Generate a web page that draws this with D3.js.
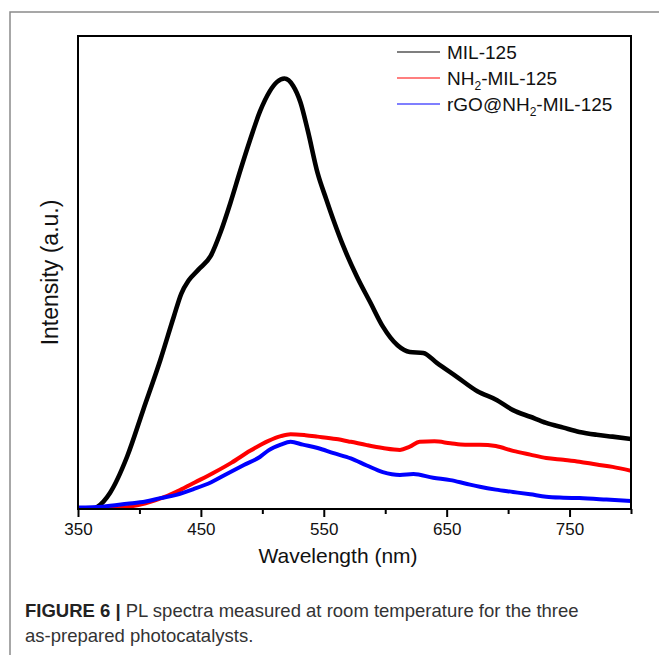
<!DOCTYPE html>
<html>
<head>
<meta charset="utf-8">
<script src="https://cdn.jsdelivr.net/npm/d3@7/dist/d3.min.js"></script>
<style>
  html, body { margin: 0; padding: 0; background: #fff; }
  svg { display: block; }
  text { font-family: "Liberation Sans", Arial, Helvetica, sans-serif; }
</style>
</head>
<body>
<svg id="chart" width="659" height="655"></svg>
<script>
// ---- data ----
const seriesNames = ["MIL-125", "NH2-MIL-125", "rGO@NH2-MIL-125"];
const seriesColors = ["#000000", "#ff0000", "#0000ff"];
const xTicksMajor = [350, 450, 550, 650, 750];
const xTicksMinor = [400, 500, 600, 700, 800];

// wavelength (nm), intensity (a.u., arbitrary scale 0-100)
const mil125 = [
  [350,0],[362,0],[366,0.5],[376,3.4],[390,11.1],[403,20.9],[417,31.5],[428,40.7],
  [434,45.5],[440,48.3],[448,50.6],[458,53.5],[466,58.5],[474,64.7],[482,71.5],
  [490,78.0],[498,84.0],[506,88.3],[512,90.3],[518,91.0],[525,89.5],[531,86.0],
  [537,80.0],[545,71.0],[552,65.5],[558,61.0],[566,55.5],[577,49.1],[588,43.6],
  [598,38.6],[610,34.6],[620,33.2],[631,33.0],[642,30.9],[658,28.0],[675,24.9],
  [691,23.0],[704,20.9],[718,19.5],[731,18.2],[745,17.2],[758,16.3],[772,15.7],
  [785,15.3],[800,14.8]
];
const nh2mil125 = [
  [350,0],[370,0],[390,0.4],[405,1.2],[420,2.5],[433,4.0],[445,5.6],[460,7.6],
  [475,9.8],[490,12.3],[505,14.4],[515,15.4],[523,15.8],[535,15.6],[545,15.3],
  [560,14.8],[572,14.2],[585,13.5],[598,12.9],[612,12.5],[620,13.2],[628,14.2],
  [640,14.3],[653,13.9],[665,13.6],[677,13.6],[690,13.3],[704,12.3],[718,11.5],
  [731,10.8],[745,10.4],[758,10.0],[772,9.4],[785,8.9],[800,8.1]
];
const rgoNh2mil125 = [
  [350,0.3],[370,0.5],[390,1.1],[405,1.6],[417,2.3],[430,3.0],[444,4.2],[458,5.6],
  [471,7.4],[485,9.3],[498,11.0],[505,12.4],[515,13.6],[523,14.2],[533,13.6],
  [545,12.9],[558,11.8],[572,10.7],[585,9.2],[598,7.8],[612,7.2],[623,7.4],
  [639,6.6],[653,6.1],[665,5.4],[677,4.7],[690,4.1],[704,3.6],[718,3.1],
  [731,2.6],[745,2.4],[758,2.3],[780,2.0],[800,1.7]
];
const allSeries = [mil125, nh2mil125, rgoNh2mil125];

// ---- layout ----
const svg = d3.select("#chart");
const W = 659, H = 655;
const plot = { left: 78, right: 631, top: 36, bottom: 509 };

// outer figure frame
svg.append("rect")
  .attr("x", 10).attr("y", 12)
  .attr("width", W + 20).attr("height", H + 20)
  .attr("fill", "none").attr("stroke", "#8a8a8a").attr("stroke-width", 1.5);

const x = d3.scaleLinear().domain([350, 800]).range([plot.left, plot.right]);
const y = d3.scaleLinear().domain([0, 100]).range([plot.bottom, plot.top]);

const line = d3.line().x(d => x(d[0])).y(d => y(d[1])).curve(d3.curveMonotoneX);

const clipId = "plotclip";
svg.append("defs").append("clipPath").attr("id", clipId)
  .append("rect").attr("x", plot.left).attr("y", plot.top)
  .attr("width", plot.right - plot.left).attr("height", plot.bottom - plot.top);

const g = svg.append("g").attr("clip-path", `url(#${clipId})`);
const widths = [4.6, 4.0, 4.0];
allSeries.forEach((s, i) => {
  g.append("path")
    .datum(s)
    .attr("fill", "none")
    .attr("stroke", seriesColors[i])
    .attr("stroke-width", widths[i])
    .attr("stroke-linejoin", "round")
    .attr("d", line);
});

// plot frame
svg.append("rect")
  .attr("x", plot.left).attr("y", plot.top)
  .attr("width", plot.right - plot.left).attr("height", plot.bottom - plot.top)
  .attr("fill", "none").attr("stroke", "#000").attr("stroke-width", 2);

// x axis: major ticks with labels
const axMajor = d3.axisBottom(x).tickValues(xTicksMajor).tickSize(8).tickPadding(6)
  .tickFormat(d3.format("d"));
const gx = svg.append("g").attr("transform", `translate(0,${plot.bottom})`).call(axMajor);
gx.select(".domain").remove();
gx.selectAll("line").attr("stroke", "#000").attr("stroke-width", 2);
gx.selectAll("text").attr("font-size", 17).attr("fill", "#111")
  .style("font-family", '"Liberation Sans", Arial, sans-serif');

const axMinor = d3.axisBottom(x).tickValues(xTicksMinor).tickSize(5).tickFormat("");
const gxm = svg.append("g").attr("transform", `translate(0,${plot.bottom})`).call(axMinor);
gxm.select(".domain").remove();
gxm.selectAll("line").attr("stroke", "#000").attr("stroke-width", 2);

// axis titles
svg.append("text")
  .attr("x", 338).attr("y", 563)
  .attr("text-anchor", "middle").attr("font-size", 21).attr("fill", "#111")
  .text("Wavelength (nm)");
svg.append("text")
  .attr("transform", `translate(58,${(plot.top + plot.bottom) / 2}) rotate(-90)`)
  .attr("text-anchor", "middle").attr("font-size", 23).attr("fill", "#111")
  .text("Intensity (a.u.)");

// legend
const legY = [52, 78, 104];
seriesNames.forEach((name, i) => {
  svg.append("line")
    .attr("x1", 397).attr("x2", 440).attr("y1", legY[i]).attr("y2", legY[i])
    .attr("stroke", seriesColors[i]).attr("stroke-width", 1.2);
  const t = svg.append("text").attr("x", 447).attr("y", legY[i] + 7)
    .attr("font-size", 19).attr("fill", "#111");
  const parts = name.split("NH2");
  if (parts.length === 1) {
    t.text(name);
  } else {
    t.append("tspan").text(parts[0] + "NH");
    t.append("tspan").attr("font-size", 12).attr("dy", 5).text("2");
    t.append("tspan").attr("dy", -5).text(parts[1]);
  }
});

// caption
const cap = svg.append("text").attr("x", 25).attr("y", 617)
  .attr("font-size", 18.5).attr("fill", "#333");
cap.append("tspan").attr("font-weight", "bold").attr("fill", "#222").text("FIGURE 6 | ");
cap.append("tspan").text("PL spectra measured at room temperature for the three");
svg.append("text").attr("x", 25).attr("y", 642)
  .attr("font-size", 18.5).attr("fill", "#333")
  .text("as-prepared photocatalysts.");
</script>
</body>
</html>
